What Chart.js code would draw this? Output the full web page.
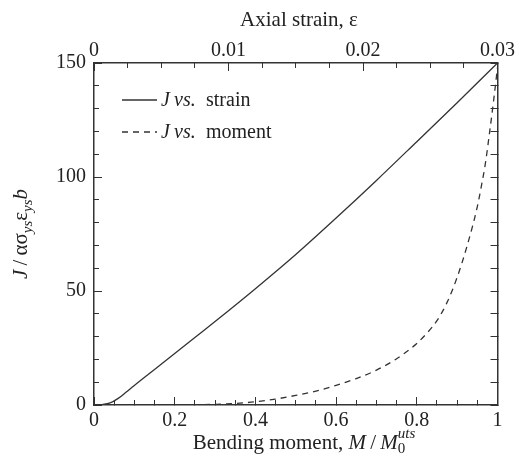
<!DOCTYPE html>
<html>
<head>
<meta charset="utf-8">
<script src="https://cdn.jsdelivr.net/npm/chart.js@4.4.1/dist/chart.umd.min.js"></script>
<style>
  body { margin: 0; background: #fff; }
  #wrap { width: 523px; height: 467px; position: relative; }
</style>
</head>
<body>
<div id="wrap"><canvas id="chart"></canvas></div>
<script>
// J vs. strain (top axis, axial strain)
const strainX = [0, 0.0006, 0.0012, 0.0018, 0.0024, 0.003, 0.0045, 0.006, 0.0075, 0.009, 0.012, 0.015, 0.018, 0.021, 0.024, 0.027, 0.03];
const jStrain = [0, 0.2, 0.9, 2.9, 5.7, 8.6, 15.6, 22.6, 29.6, 36.6, 51, 66, 82, 98.5, 115.5, 132.6, 150];

// J vs. moment (bottom axis, M/M0^uts)
const momentX = [0, 0.1, 0.2, 0.3, 0.35, 0.4, 0.45, 0.5, 0.55, 0.6, 0.65, 0.7, 0.75, 0.8, 0.825, 0.85, 0.875, 0.9, 0.925, 0.95, 0.96, 0.97, 0.98, 0.99, 1];
const jMoment = [0, 0, 0.05, 0.3, 0.7, 1.4, 2.6, 4.2, 6.1, 8.6, 11.6, 15.3, 20.3, 27, 31.5, 37, 45, 56, 70, 87, 96, 106, 119, 133, 148];

const momentTicks = [0, 0.2, 0.4, 0.6, 0.8, 1];
const strainTicks = [0, 0.01, 0.02, 0.03];
const jTicks = [0, 50, 100, 150];

const FONT = '"Liberation Serif", "DejaVu Serif", serif';
const INK = '#222';
const LINE = '#333';

function isMajor(v, list) {
    return list.some(t => Math.abs(t - v) < 1e-9);
}
function fmt(v) {
    return String(Number(v.toFixed(4)));
}

// inward ticks: major ones long, minor ones cut short with a dash pattern
function tickDash(list, nearBorderFirst) {
    return ctx => {
        if (isMajor(ctx.tick.value, list)) return [];
        return nearBorderFirst ? [5.5, 100] : [0, 3, 10, 100];
    };
}

function xScale(pos, min, max, step, labels) {
    return {
        type: 'linear',
        position: pos,
        min: min,
        max: max,
        ticks: {
            stepSize: step,
            autoSkip: false,
            maxRotation: 0,
            padding: pos === 'bottom' ? 12 : 8,
            color: INK,
            font: { family: FONT, size: 20 },
            callback: v => isMajor(v, labels) ? fmt(v) : ''
        },
        grid: {
            drawOnChartArea: false,
            tickLength: -8,
            tickColor: LINE,
            tickWidth: 1,
            tickBorderDash: tickDash(labels, pos === 'bottom')
        },
        border: { color: LINE, width: 1.5 },
        afterFit: s => { s.height = pos === 'bottom' ? 62 : 63; }
    };
}

const richText = {
    id: 'richText',
    afterDraw(chart) {
        const ctx = chart.ctx;
        const f = (style, size) => `${style} ${size}px ${FONT}`;

        function runs(parts, x, y, center) {
            let w = 0;
            parts.forEach(p => {
                ctx.font = p.font;
                p.w = ctx.measureText(p.text).width;
                if (!p.stack) w += p.w;
            });
            let cx = center ? x - w / 2 : x;
            let last = 0;
            parts.forEach(p => {
                ctx.font = p.font;
                const px = p.stack ? cx - last : cx;
                ctx.fillText(p.text, px, y + (p.dy || 0));
                if (p.stack) {
                    cx = Math.max(cx, px + p.w);
                } else {
                    cx += p.w;
                    last = p.w;
                }
            });
        }

        ctx.save();
        ctx.fillStyle = INK;
        ctx.textBaseline = 'alphabetic';
        ctx.textAlign = 'left';

        // top axis title
        runs([{ text: 'Axial strain, ε', font: f('normal', 21) }], 299, 26, true);

        // bottom axis title
        runs([
            { text: 'Bending moment, ', font: f('normal', 21) },
            { text: 'M', font: f('italic', 21) },
            { text: '\u2009/\u2009', font: f('normal', 21) },
            { text: 'M', font: f('italic', 21) },
            { text: '0', font: f('normal', 15), dy: 4 },
            { text: 'uts', font: f('italic', 15), dy: -11, stack: true }
        ], 299, 449, true);

        // left axis title (rotated)
        ctx.save();
        ctx.translate(27, 234);
        ctx.rotate(-Math.PI / 2);
        runs([
            { text: 'J', font: f('italic', 21) },
            { text: '\u2009/\u2009', font: f('normal', 21) },
            { text: 'ασ', font: f('normal', 21) },
            { text: 'ys', font: f('italic', 15), dy: 5 },
            { text: 'ε', font: f('normal', 21) },
            { text: 'ys', font: f('italic', 15), dy: 5 },
            { text: 'b', font: f('italic', 21) }
        ], 0, 0, true);
        ctx.restore();

        // legend
        const rows = [
            { y: 100, dash: [], word: 'strain' },
            { y: 132, dash: [6, 5], word: 'moment' }
        ];
        rows.forEach(r => {
            ctx.save();
            ctx.strokeStyle = LINE;
            ctx.lineWidth = 1.3;
            ctx.setLineDash(r.dash);
            ctx.beginPath();
            ctx.moveTo(122, r.y);
            ctx.lineTo(157, r.y);
            ctx.stroke();
            ctx.restore();
            ctx.font = f('italic', 20);
            ctx.fillText('J', 161, r.y + 6);
            ctx.fillText('vs.', 174, r.y + 6);
            ctx.font = f('normal', 20);
            ctx.fillText(r.word, 206, r.y + 6);
        });
        ctx.restore();
    }
};

new Chart(document.getElementById('chart'), {
    type: 'line',
    data: {
        datasets: [
            {
                label: 'J vs. strain',
                data: strainX.map((x, i) => ({ x: x, y: jStrain[i] })),
                xAxisID: 'x2',
                yAxisID: 'y',
                borderColor: LINE,
                borderWidth: 1.3,
                pointRadius: 0,
                cubicInterpolationMode: 'monotone'
            },
            {
                label: 'J vs. moment',
                data: momentX.map((x, i) => ({ x: x, y: jMoment[i] })),
                xAxisID: 'x',
                yAxisID: 'y',
                borderColor: LINE,
                borderWidth: 1.3,
                borderDash: [6, 5],
                pointRadius: 0,
                cubicInterpolationMode: 'monotone'
            }
        ]
    },
    options: {
        responsive: true,
        maintainAspectRatio: false,
        animation: false,
        layout: { padding: 0 },
        plugins: {
            legend: { display: false },
            tooltip: { enabled: false }
        },
        scales: {
            x: xScale('bottom', 0, 1, 0.05, momentTicks),
            x2: xScale('top', 0, 0.03, 0.0025, strainTicks),
            y: {
                type: 'linear',
                position: 'left',
                min: 0,
                max: 150,
                ticks: {
                    stepSize: 10,
                    autoSkip: false,
                    padding: 16,
                    color: INK,
                    font: { family: FONT, size: 20 },
                    callback: v => isMajor(v, jTicks) ? fmt(v) : ''
                },
                grid: {
                    drawOnChartArea: false,
                    tickLength: -8,
                    tickColor: LINE,
                    tickWidth: 1,
                    tickBorderDash: tickDash(jTicks, false)
                },
                border: { color: LINE, width: 1.5 },
                afterFit: s => { s.width = 94; }
            },
            y2: {
                type: 'linear',
                position: 'right',
                min: 0,
                max: 150,
                ticks: {
                    stepSize: 10,
                    autoSkip: false,
                    padding: 0,
                    callback: () => ''
                },
                grid: {
                    drawOnChartArea: false,
                    tickLength: -7,
                    tickColor: LINE,
                    tickWidth: 1
                },
                border: { color: LINE, width: 1.5 },
                afterFit: s => { s.width = 20; }
            }
        }
    },
    plugins: [richText]
});
</script>
</body>
</html>
